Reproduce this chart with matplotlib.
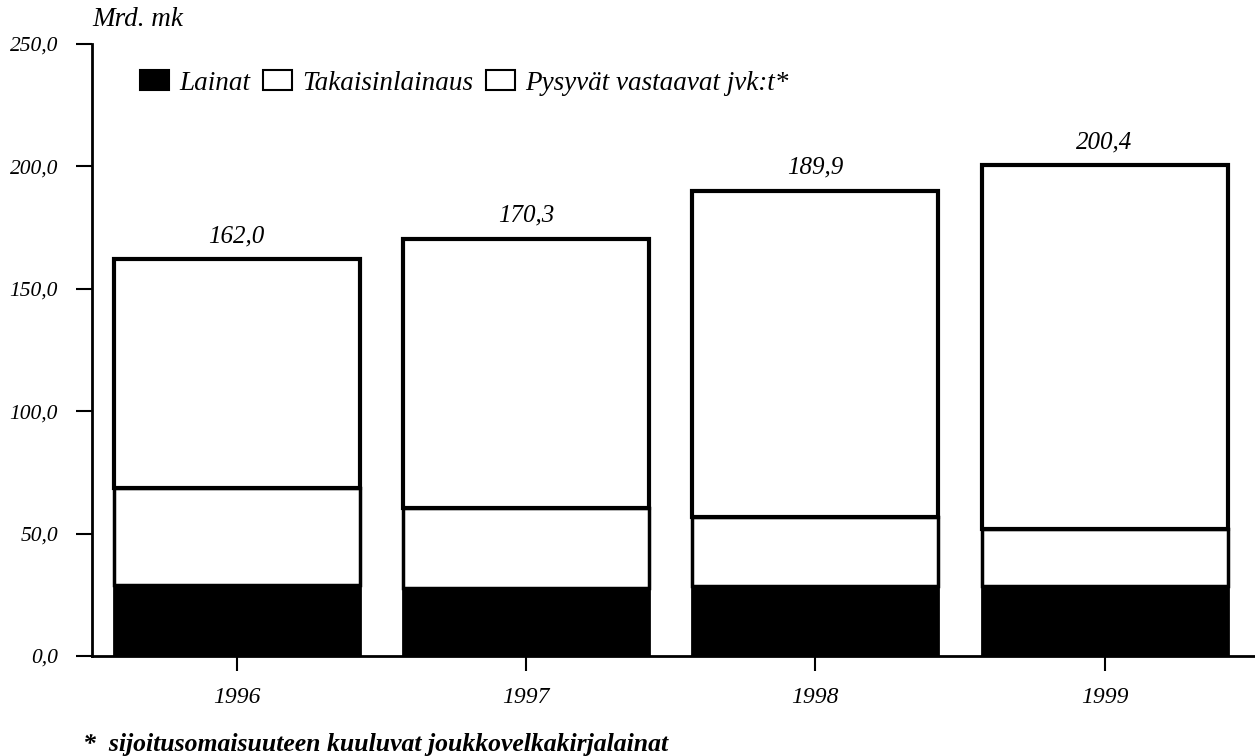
import numpy as np
import matplotlib
matplotlib.use("Agg")
from matplotlib import pyplot as plt
from matplotlib.patches import Patch

years = ["1996", "1997", "1998", "1999"]
lainat = [29.0, 27.7, 28.6, 28.6]
takaisin = [39.7, 32.8, 28.1, 23.3]
totals = [162.0, 170.3, 189.9, 200.4]
total_labels = ["162,0", "170,3", "189,9", "200,4"]
pysyvat = [t - a - b for t, a, b in zip(totals, lainat, takaisin)]

plt.rcParams['font.family'] = ['Liberation Serif', 'DejaVu Serif']
plt.rcParams['font.style'] = 'italic'
plt.rcParams['font.size'] = 15

fig = plt.figure(figsize=(12.55, 7.56), dpi=100)
ax = fig.add_axes([0.0733, 0.1323, 0.9267, 0.8095])

x = np.arange(len(years))
w = 0.85
ax.bar(x, lainat, w, color="black", edgecolor="black", linewidth=2)
ax.bar(x, takaisin, w, bottom=lainat, color="white", edgecolor="black", linewidth=2.5)
bot2 = [a + b for a, b in zip(lainat, takaisin)]
ax.bar(x, pysyvat, w, bottom=bot2, color="white", edgecolor="black", linewidth=3)

for xi, t, lab in zip(x, totals, total_labels):
    ax.text(xi, t + 5, lab, ha="center", va="bottom", fontsize=18)

ax.set_xlim(-0.5, 3.52)
ax.set_ylim(0, 250)
ax.set_xticks(x)
ax.set_xticklabels(years, fontsize=17)
ax.set_yticks([0, 50, 100, 150, 200, 250])
ax.set_yticklabels(["0,0", "50,0", "100,0", "150,0", "200,0", "250,0"], fontsize=15.5)
ax.tick_params(axis="x", length=11, width=1.5, pad=11, direction="out")
ax.tick_params(axis="y", length=11.5, width=1.5, pad=13, direction="out")
ax.spines['right'].set_visible(False)
ax.spines['top'].set_visible(False)
for s in ['bottom', 'left']:
    ax.spines[s].set_linewidth(2)

fig.text(92 / 1255, 1 - 20 / 756, "Mrd. mk", fontsize=19.5, va="center", ha="left")

handles = [
    Patch(facecolor="black", edgecolor="black", linewidth=1.5),
    Patch(facecolor="white", edgecolor="black", linewidth=1.5),
    Patch(facecolor="white", edgecolor="black", linewidth=1.5),
]
fig.legend(handles, ["Lainat", "Takaisinlainaus", "Pysyvät vastaavat jvk:t*"],
           loc="center left", bbox_to_anchor=(116 / 1255, 1 - 83 / 756),
           ncol=3, frameon=False, fontsize=19.5, handlelength=1.05, handleheight=0.75,
           handletextpad=0.37, columnspacing=0.5)

fig.text(83 / 1255, 1 - 745 / 756, "*  sijoitusomaisuuteen kuuluvat joukkovelkakirjalainat",
         fontsize=18.5, fontweight="bold", va="center", ha="left")

plt.savefig("out.png", dpi=100)
